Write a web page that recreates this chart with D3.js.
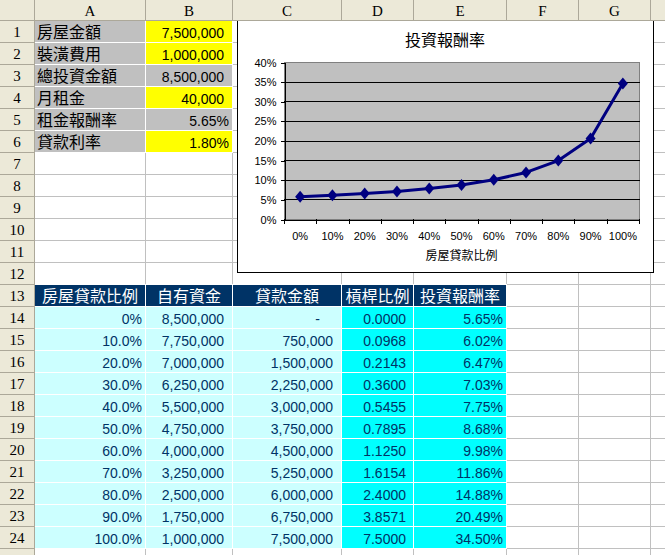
<!DOCTYPE html>
<html><head><meta charset="utf-8">
<script src="https://cdn.jsdelivr.net/npm/d3@7"></script>
<style>body{margin:0;background:#fff}svg{display:block}</style>
</head><body><svg id="c" width="665" height="555"></svg>
<script>
// ---------- data ----------
const colLetters = ["A", "B", "C", "D", "E", "F", "G"];
const inputLabels = ["房屋金額", "裝潢費用", "總投資金額", "月租金", "租金報酬率", "貸款利率"];
const inputValues = [7500000, 1000000, 8500000, 40000, 0.0565, 0.018];
const tableHeaders = ["房屋貸款比例", "自有資金", "貸款金額", "槓桿比例", "投資報酬率"];
const loanRatio = [0, 0.1, 0.2, 0.3, 0.4, 0.5, 0.6, 0.7, 0.8, 0.9, 1.0];
const ownFunds = [8500000, 7750000, 7000000, 6250000, 5500000, 4750000, 4000000, 3250000, 2500000, 1750000, 1000000];
const loanAmount = [0, 750000, 1500000, 2250000, 3000000, 3750000, 4500000, 5250000, 6000000, 6750000, 7500000];
const leverage = [0, 0.0968, 0.2143, 0.3600, 0.5455, 0.7895, 1.1250, 1.6154, 2.4000, 3.8571, 7.5000];
const investReturn = [0.0565, 0.0602, 0.0647, 0.0703, 0.0775, 0.0868, 0.0998, 0.1186, 0.1488, 0.2049, 0.3450];
const chartCategories = ["0%", "10%", "20%", "30%", "40%", "50%", "60%", "70%", "80%", "90%", "100%"];
const chartTitle = "投資報酬率";
const xAxisTitle = "房屋貸款比例";
const yTickValues = [0, 0.05, 0.10, 0.15, 0.20, 0.25, 0.30, 0.35, 0.40];

// ---------- layout ----------
const W = 665, H = 555;
const colLines = [34, 145, 232, 341, 413, 506, 578, 650];
const rowLine = n => 20 + 22 * n;
const FONT = "'Liberation Sans', 'Noto Sans CJK TC', sans-serif";
const HFONT = "'Liberation Serif', 'Noto Sans CJK TC', serif";
const svg = d3.select("#c");

svg.append("rect").attr("width", W).attr("height", H).attr("fill", "#fff");

// gridlines
const grid = svg.append("g").attr("shape-rendering", "crispEdges").attr("stroke", "#c0c0c0");
colLines.slice(1).forEach(x => grid.append("line").attr("x1", x + 0.5).attr("x2", x + 0.5).attr("y1", 20).attr("y2", H));
for (let n = 1; n <= 25; n++) grid.append("line").attr("x1", 34).attr("x2", W).attr("y1", rowLine(n) + 0.5).attr("y2", rowLine(n) + 0.5);

// cell helper
const cells = svg.append("g").attr("shape-rendering", "crispEdges");
function fillCell(c, r, color) { // c: 0-based column, r: 1-based row
  const x0 = colLines[c], x1 = colLines[c + 1], y0 = rowLine(r - 1), y1 = rowLine(r);
  cells.append("rect").attr("x", x0 + 1).attr("y", y0).attr("width", x1 - x0).attr("height", y1 - y0 + 1).attr("fill", "#fff");
  cells.append("rect").attr("x", x0 + 1).attr("y", y0 + 1).attr("width", x1 - x0 - 1).attr("height", y1 - y0 - 1).attr("fill", color);
}
const texts = svg.append("g").attr("font-family", FONT).attr("font-size", 14);
function cellText(c, r, str, align, color, pad, size) {
  const x0 = colLines[c], x1 = colLines[c + 1];
  let x, anchor;
  if (align === "left") { x = x0 + 1 + pad; anchor = "start"; }
  else if (align === "center") { x = (x0 + x1) / 2 + 0.5; anchor = "middle"; }
  else { x = x1 - pad; anchor = "end"; }
  texts.append("text").attr("x", x).attr("y", rowLine(r - 1) + 18).attr("text-anchor", anchor)
    .attr("fill", color).attr("font-size", size || 14).text(str);
}

// inputs block
const inputHighlight = new Set([0, 1, 3, 5]);
const fmtInt = d3.format(",");
const fmtPct2 = d3.format(".2%");
inputLabels.forEach((lab, i) => {
  fillCell(0, i + 1, "#c0c0c0");
  fillCell(1, i + 1, inputHighlight.has(i) ? "#ffff00" : "#c0c0c0");
  cellText(0, i + 1, lab, "left", "#000", 2, 16);
  const v = inputValues[i];
  const isPct = v < 1;
  cellText(1, i + 1, isPct ? fmtPct2(v) : fmtInt(v), "right", "#000", isPct ? 3 : 8);
});

// table
const tableText = "#003366";
tableHeaders.forEach((h, c) => {
  fillCell(c, 13, "#003366");
  cellText(c, 13, h, "center", "#fff", 0, 16);
});
loanRatio.forEach((v, i) => {
  const r = 14 + i;
  [0, 1, 2].forEach(c => fillCell(c, r, "#ccffff"));
  [3, 4].forEach(c => fillCell(c, r, "#00ffff"));
  cellText(0, r, i === 0 ? d3.format(".0%")(v) : d3.format(".1%")(v), "right", tableText, 3);
  cellText(1, r, fmtInt(ownFunds[i]), "right", tableText, 8);
  if (loanAmount[i] === 0) cellText(2, r, "-", "right", tableText, 21);
  else cellText(2, r, fmtInt(loanAmount[i]), "right", tableText, 8);
  cellText(3, r, d3.format(".4f")(leverage[i]), "right", tableText, 7);
  cellText(4, r, fmtPct2(investReturn[i]), "right", tableText, 3);
});

// ---------- chart ----------
const ch = svg.append("g");
ch.append("rect").attr("x", 237.5).attr("y", 20.5).attr("width", 416).attr("height", 252)
  .attr("fill", "#fff").attr("stroke", "#000").attr("shape-rendering", "crispEdges");
ch.append("text").attr("x", 445).attr("y", 46).attr("text-anchor", "middle")
  .attr("font-family", FONT).attr("font-size", 16).attr("fill", "#000").text(chartTitle);

const px0 = 284, px1 = 639, py0 = 62, py1 = 219;
const x = d3.scaleBand().domain(chartCategories).range([px0, px1]);
const y = d3.scaleLinear().domain([0, 0.4]).range([py1, py0]);

ch.append("rect").attr("x", px0 + 0.5).attr("y", py0 + 0.5).attr("width", px1 - px0).attr("height", py1 - py0)
  .attr("fill", "#c0c0c0").attr("stroke", "#808080").attr("shape-rendering", "crispEdges");
ch.append("g").attr("shape-rendering", "crispEdges").selectAll("line")
  .data(yTickValues.filter(v => v > 0 && v < 0.4)).join("line")
  .attr("x1", px0).attr("x2", px1 + 1)
  .attr("y1", d => Math.round(y(d)) + 0.5).attr("y2", d => Math.round(y(d)) + 0.5)
  .attr("stroke", "#000");

const yAxis = ch.append("g").attr("transform", `translate(${px0 + 0.5},0.5)`)
  .call(d3.axisLeft(y).tickValues(yTickValues).tickFormat(d3.format(".0%")).tickSizeInner(4).tickSizeOuter(0).tickPadding(4));
yAxis.attr("font-family", FONT).attr("font-size", 11).attr("shape-rendering", "crispEdges");
yAxis.selectAll("text").attr("fill", "#000").attr("shape-rendering", null);
yAxis.selectAll("line,path").attr("stroke", "#000");

const xAxis = ch.append("g").attr("transform", `translate(0,${py1 + 0.5})`)
  .call(d3.axisBottom(x).tickSize(0).tickSizeOuter(0).tickPadding(13));
xAxis.attr("font-family", FONT).attr("font-size", 11).attr("shape-rendering", "crispEdges");
xAxis.selectAll("text").attr("fill", "#000");
xAxis.select("path").attr("stroke", "#000");
const bounds = chartCategories.map(d => x(d)).concat([px1]);
ch.append("g").attr("shape-rendering", "crispEdges").selectAll("line").data(bounds).join("line")
  .attr("x1", d => Math.round(d) + 0.5).attr("x2", d => Math.round(d) + 0.5)
  .attr("y1", py1).attr("y2", py1 + 5).attr("stroke", "#000");

ch.append("text").attr("x", (px0 + px1) / 2).attr("y", 260).attr("text-anchor", "middle")
  .attr("font-family", FONT).attr("font-size", 12).attr("fill", "#000").text(xAxisTitle);

const pts = chartCategories.map((c, i) => [x(c) + x.bandwidth() / 2, y(investReturn[i])]);
ch.append("path").attr("d", d3.line()(pts)).attr("fill", "none").attr("stroke", "#000080")
  .attr("stroke-width", 3).attr("stroke-linejoin", "round");
const diamond = { draw(ctx) { ctx.moveTo(0, -6); ctx.lineTo(5, 0); ctx.lineTo(0, 6); ctx.lineTo(-5, 0); ctx.closePath(); } };
ch.selectAll(".mk").data(pts).join("path").attr("class", "mk")
  .attr("transform", d => `translate(${d[0]},${d[1]})`)
  .attr("d", d3.symbol(diamond)()).attr("fill", "#000080");

// ---------- headers ----------
const hdr = svg.append("g").attr("shape-rendering", "crispEdges");
const HBG = "#ece9d8", HLINE = "#aca899";
hdr.append("rect").attr("x", 0).attr("y", 0).attr("width", W).attr("height", 20).attr("fill", HBG);
hdr.append("rect").attr("x", 0).attr("y", 20).attr("width", 34).attr("height", H - 20).attr("fill", HBG);
hdr.append("line").attr("x1", 0).attr("x2", W).attr("y1", 20.5).attr("y2", 20.5).attr("stroke", HLINE);
hdr.append("line").attr("x1", 34.5).attr("x2", 34.5).attr("y1", 0).attr("y2", H).attr("stroke", HLINE);
colLines.slice(1).forEach(xx => hdr.append("line").attr("x1", xx + 0.5).attr("x2", xx + 0.5).attr("y1", 0).attr("y2", 20).attr("stroke", HLINE));
for (let n = 1; n <= 25; n++) hdr.append("line").attr("x1", 0).attr("x2", 34).attr("y1", rowLine(n) + 0.5).attr("y2", rowLine(n) + 0.5).attr("stroke", HLINE);
const htext = svg.append("g").attr("font-family", HFONT).attr("font-size", 15).attr("fill", "#000").attr("text-anchor", "middle");
colLetters.forEach((L, c) => htext.append("text").attr("x", (colLines[c] + colLines[c + 1]) / 2 + 0.5).attr("y", 16).text(L));
for (let r = 1; r <= 24; r++) htext.append("text").attr("x", 17).attr("y", rowLine(r - 1) + 17).text(r);
</script>
</body></html>
